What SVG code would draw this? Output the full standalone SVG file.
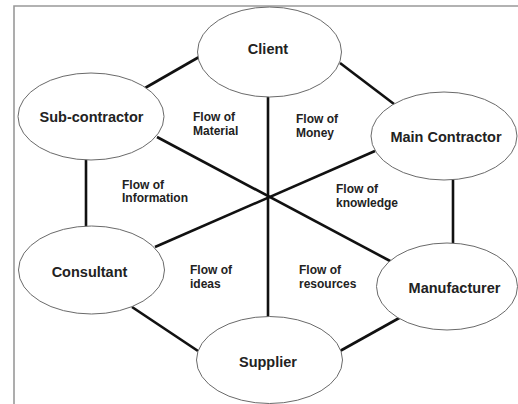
<svg xmlns="http://www.w3.org/2000/svg" width="518" height="404" viewBox="0 0 518 404">
<style>
.frame{fill:none;stroke:#999;stroke-width:1.6}
.node ellipse{fill:#fff;stroke:#6a6a6a;stroke-width:1}
.node text{font-family:"Liberation Sans",Arial,sans-serif;font-weight:bold;font-size:14.5px;fill:#222;text-anchor:middle}
.edges line{stroke:#111;stroke-width:2.6;stroke-linecap:butt}
.lbl{font-family:"Liberation Sans",Arial,sans-serif;font-weight:bold;font-size:12px;fill:#222}
</style>
<rect width="518" height="404" fill="#fff"/>
<path class="frame" d="M14,404 V6 H518"/>
<g id="connectors" class="edges">
<line x1="145" y1="88" x2="199" y2="57"/>
<line x1="340" y1="63" x2="394" y2="104"/>
<line x1="268" y1="96" x2="268" y2="318"/>
<line x1="157" y1="137" x2="392" y2="262"/>
<line x1="375" y1="151" x2="155" y2="247"/>
<line x1="86" y1="159" x2="86" y2="227"/>
<line x1="453" y1="179" x2="453" y2="243"/>
<line x1="132" y1="307" x2="198" y2="351"/>
<line x1="401" y1="317" x2="340" y2="351"/>
</g>
<g id="client" class="node"><ellipse cx="269.5" cy="52" rx="72" ry="45"/><text x="268" y="54">Client</text></g>
<g id="subcontractor" class="node"><ellipse cx="91" cy="116.5" rx="73" ry="43.5"/><text x="91.5" y="122">Sub-contractor</text></g>
<g id="maincontractor" class="node"><ellipse cx="444" cy="136" rx="73" ry="44"/><text x="446" y="142">Main Contractor</text></g>
<g id="consultant" class="node"><ellipse cx="91.5" cy="270" rx="73" ry="44"/><text x="89.5" y="277">Consultant</text></g>
<g id="manufacturer" class="node"><ellipse cx="447" cy="286.5" rx="70.5" ry="43.5"/><text x="454.5" y="293">Manufacturer</text></g>
<g id="supplier" class="node"><ellipse cx="269.5" cy="360" rx="73" ry="43.5"/><text x="268" y="367">Supplier</text></g>
<g id="labels">
<text class="lbl" x="193" y="121">Flow of<tspan x="193" y="135">Material</tspan></text>
<text class="lbl" x="296" y="123">Flow of<tspan x="296" y="137">Money</tspan></text>
<text class="lbl" x="122" y="189">Flow of<tspan x="122" y="202">Information</tspan></text>
<text class="lbl" x="336" y="193">Flow of<tspan x="336" y="207">knowledge</tspan></text>
<text class="lbl" x="190" y="274">Flow of<tspan x="190" y="288">ideas</tspan></text>
<text class="lbl" x="299" y="274">Flow of<tspan x="299" y="288">resources</tspan></text>
</g>
</svg>
